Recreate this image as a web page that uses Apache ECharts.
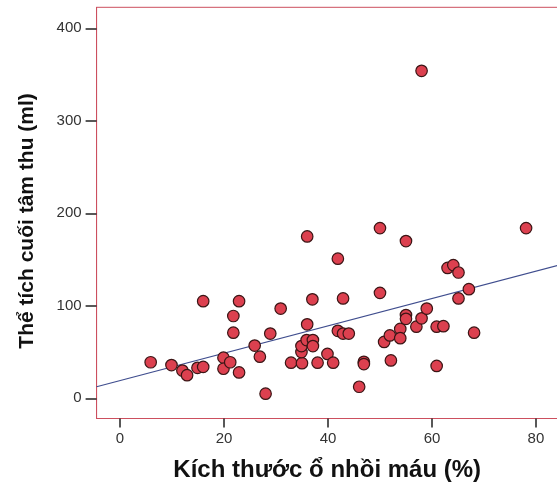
<!DOCTYPE html>
<html>
<head>
<meta charset="utf-8">
<script src="https://cdn.jsdelivr.net/npm/echarts@6/dist/echarts.min.js"></script>
<style>html,body{margin:0;padding:0;background:#fff}#c{width:557px;height:487px}</style>
</head>
<body>
<div id="c"></div>
<script>
var xTicks = [0, 20, 40, 60, 80];
var yTicks = [0, 100, 200, 300, 400];
var infarctSize = [5.9, 9.9, 12.0, 12.9, 14.9, 16.0, 16.0, 19.9, 19.9, 21.2, 21.8, 21.8, 22.9, 22.9, 25.9, 26.9, 28.0, 28.9, 30.9, 32.9, 35.0, 34.9, 34.9, 36.0, 36.0, 35.9, 37.1, 37.1, 37.0, 38.0, 39.9, 41.0, 41.9, 41.9, 42.9, 42.9, 44.0, 46.0, 46.9, 46.9, 50.0, 50.0, 50.8, 51.9, 52.1, 53.9, 53.9, 55.0, 55.0, 55.0, 57.0, 58.0, 59.0, 60.9, 62.2, 60.9, 63.0, 64.1, 65.1, 65.1, 67.1, 68.1, 78.1, 58.0];
var esv = [39, 36, 30, 25, 33, 34, 105, 44, 32, 39, 89, 71, 105, 28, 57, 45, 5, 70, 97, 38.5, 38, 50, 56.5, 80, 175, 63, 63, 56.5, 107, 38.5, 48, 38.5, 151, 73, 70, 108, 70, 12.5, 39.5, 37, 184, 114, 61, 68, 41, 75, 65, 170, 90, 86, 77.5, 86.5, 97, 77.5, 78, 35, 141, 144, 136, 108, 118, 71, 184, 354];
var fitIntercept = 19.15;
var fitSlope = 1.478;
var xMin = -4.5, xMax = 84.2, yMin = -21.8, yMax = 422.7;

var pts = infarctSize.map(function (x, i) { return [x, esv[i]]; });
var fitLine = [[xMin, fitIntercept + fitSlope * xMin], [xMax, fitIntercept + fitSlope * xMax]];

var FONT = "'Liberation Sans', Arial, sans-serif";
var chart = echarts.init(document.getElementById('c'), null, {renderer: 'canvas'});
chart.setOption({
  backgroundColor: '#ffffff',
  animation: false,
  grid: {
    left: 96.6, top: 7.3, width: 461.2, height: 411.2,
    show: true, borderColor: '#cc4f5e', borderWidth: 1, backgroundColor: '#ffffff',
    outerBoundsMode: 'none', containLabel: false
  },
  xAxis: {
    type: 'value', min: xMin, max: xMax,
    name: 'Kích thước ổ nhồi máu (%)', nameLocation: 'middle', nameGap: 40,
    nameTextStyle: {fontFamily: FONT, fontSize: 24, fontWeight: 'bold', color: '#111'},
    axisLine: {show: true, onZero: false, lineStyle: {color: '#cc4f5e', width: 1}},
    axisTick: {show: true, inside: false, length: 9, customValues: xTicks, lineStyle: {color: '#222', width: 1.5}},
    axisLabel: {customValues: xTicks, margin: 13, fontFamily: FONT, fontSize: 15, color: '#333'},
    splitLine: {show: false}
  },
  yAxis: {
    type: 'value', min: yMin, max: yMax,
    name: 'Thể tích cuối tâm thu (ml)', nameLocation: 'middle', nameGap: 59,
    nameTextStyle: {fontFamily: FONT, fontSize: 21, fontWeight: 'bold', color: '#111', padding: [0, 16, 0, 0]},
    axisLine: {show: true, onZero: false, lineStyle: {color: '#cc4f5e', width: 1}},
    axisTick: {show: true, inside: false, length: 11, customValues: yTicks, lineStyle: {color: '#222', width: 1.5}},
    axisLabel: {customValues: yTicks, margin: 15, fontFamily: FONT, fontSize: 15, color: '#333'},
    splitLine: {show: false}
  },
  series: [
    {
      type: 'line', data: fitLine, symbol: 'none', silent: true, z: 1,
      lineStyle: {color: '#3f4d8e', width: 1.2}
    },
    {
      type: 'scatter', data: pts, symbol: 'circle', symbolSize: 11.5, z: 2,
      itemStyle: {color: '#dc404f', borderColor: '#3b1515', borderWidth: 1.2, opacity: 1}
    }
  ]
});
</script>
</body>
</html>
